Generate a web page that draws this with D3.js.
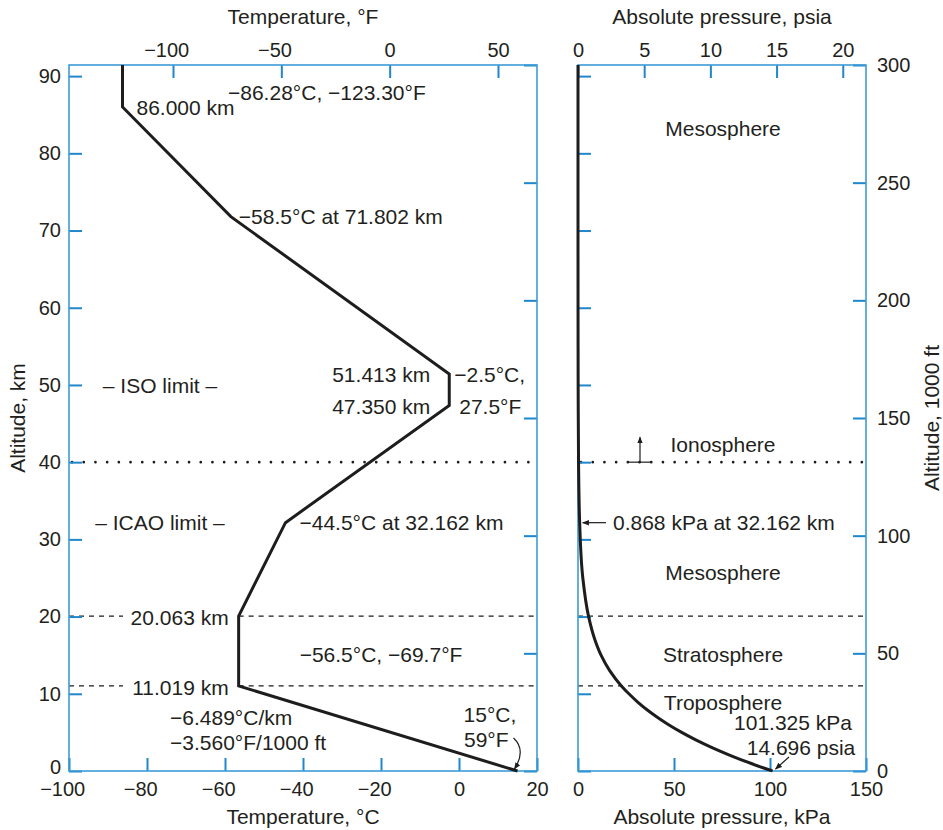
<!DOCTYPE html>
<html>
<head>
<meta charset="utf-8">
<script src="https://cdn.jsdelivr.net/npm/d3@7"></script>
<style>
  body { margin: 0; background: #fff; }
  text { font-family: "Liberation Sans", Arial, Helvetica, sans-serif; fill: #231f20; }
</style>
</head>
<body>
<div class="canvas"></div>
<script>
// temperature profile (standard atmosphere), altitude km / temperature °C
const tempAlt = [0, 11.019, 20.063, 32.162, 47.350, 51.413, 71.802, 86.000, 91.44];
const tempC = [15, -56.5, -56.5, -44.5, -2.5, -2.5, -58.5, -86.28, -86.28];

// pressure profile, altitude km / absolute pressure kPa
const presAlt = [0, 1, 2, 3, 4, 5, 6, 7, 8, 9, 10, 11.019, 13, 15, 17, 20.063, 25, 32.162, 40, 47.35, 55, 65, 75, 86, 91.44];
const presKPa = [101.325, 89.9, 79.5, 70.1, 61.6, 54.0, 47.2, 41.1, 35.6, 30.8, 26.5, 22.6, 16.5, 12.0, 8.8, 5.47, 2.51, 0.868, 0.287, 0.11, 0.043, 0.0106, 0.0025, 0.00037, 0.0002];

// layer boundaries, km
const layerLines = [11.019, 20.063];
const ionoBase = 40;

// tick values
const kmTicks = [0, 10, 20, 30, 40, 50, 60, 70, 80, 90];
const kftTicks = [0, 50, 100, 150, 200, 250, 300];
const cTicks = [-100, -80, -60, -40, -20, 0, 20];
const fTicks = [-100, -50, 0, 50];
const kpaTicks = [0, 50, 100, 150];
const psiaTicks = [0, 5, 10, 15, 20];

const svg = d3.select('.canvas')
  .append('svg')
    .attr('width', 943)
    .attr('height', 830);

const yTop = 65, yBot = 771;
const L = {x0: 69, x1: 537};
const R = {x0: 578, x1: 866};
const blue = '#3d9bd8', tickBlue = '#1f87cc', ink = '#1e1c1d';

// scales
const y = d3.scaleLinear().domain([0, 91.44]).range([yBot, yTop]);
const yFt = d3.scaleLinear().domain([0, 300]).range([yBot, yTop]);
const xC = d3.scaleLinear().domain([-100, 20]).range([L.x0, L.x1]);
const xF = d3.scaleLinear().domain([-148, 68]).range([L.x0, L.x1]);
const xKPa = d3.scaleLinear().domain([0, 150]).range([R.x0, R.x1]);
const xPsia = d3.scaleLinear().domain([0, 150 / 6.894757]).range([R.x0, R.x1]);

// arrow marker
svg.append('defs').append('marker')
  .attr('id', 'arr')
  .attr('viewBox', '0 0 10 10')
  .attr('refX', 9).attr('refY', 5)
  .attr('markerWidth', 7).attr('markerHeight', 7)
  .attr('markerUnits', 'userSpaceOnUse')
  .attr('orient', 'auto')
  .append('path')
    .attr('d', 'M0,1 L10,5 L0,9 Z')
    .attr('fill', ink);

// reference lines
const refs = svg.append('g');
layerLines.forEach(a => {
  refs.append('line')
    .attr('x1', L.x0).attr('x2', xC(-100) + 54)
    .attr('y1', y(a)).attr('y2', y(a));
  refs.append('line')
    .attr('x1', xC(-56.5)).attr('x2', L.x1)
    .attr('y1', y(a)).attr('y2', y(a));
  refs.append('line')
    .attr('x1', R.x0).attr('x2', R.x1)
    .attr('y1', y(a)).attr('y2', y(a));
});
refs.selectAll('line')
  .attr('stroke', ink)
  .attr('stroke-width', 1.2)
  .attr('stroke-dasharray', '5,5');

[[L.x0, L.x1], [R.x0, R.x1]].forEach(p => {
  svg.append('line')
    .attr('x1', p[0] + 3).attr('x2', p[1])
    .attr('y1', y(ionoBase)).attr('y2', y(ionoBase))
    .attr('stroke', ink)
    .attr('stroke-width', 2.6)
    .attr('stroke-linecap', 'round')
    .attr('stroke-dasharray', '0.1,11.6');
});

// axes
function styleAxis(g) {
  g.select('.domain').remove();
  g.attr('font-size', 20)
    .attr('font-family', '"Liberation Sans", Arial, Helvetica, sans-serif')
    .style('color', tickBlue);
  g.selectAll('.tick line').attr('stroke-width', 2);
  g.selectAll('.tick text').attr('fill', '#231f20');
}
// centre the digits of negative labels on the tick, minus hangs left
function hangMinus(g) {
  g.selectAll('.tick text').filter(d => d < 0).attr('dx', '-0.34em');
}

const fmt = d3.format('d');
svg.append('g').attr('transform', `translate(${L.x0},0)`)
  .call(d3.axisLeft(y).tickValues(kmTicks).tickSize(-13).tickPadding(8).tickFormat(fmt)).call(styleAxis)
  .selectAll('.tick text').filter(d => d === 0).attr('y', -4);
svg.append('g').attr('transform', `translate(${L.x1},0)`)
  .call(d3.axisRight(yFt).tickValues(kftTicks).tickSize(-13).tickFormat('')).call(styleAxis);
svg.append('g').attr('transform', `translate(0,${yBot})`)
  .call(d3.axisBottom(xC).tickValues(cTicks).tickSize(-13).tickPadding(11).tickFormat(fmt)).call(styleAxis).call(hangMinus);
svg.append('g').attr('transform', `translate(0,${yTop})`)
  .call(d3.axisTop(xF).tickValues(fTicks).tickSize(-13).tickPadding(8).tickFormat(fmt)).call(styleAxis).call(hangMinus);
svg.append('g').attr('transform', `translate(${R.x0},0)`)
  .call(d3.axisLeft(y).tickValues(kmTicks).tickSize(-13).tickFormat('')).call(styleAxis);
svg.append('g').attr('transform', `translate(${R.x1},0)`)
  .call(d3.axisRight(yFt).tickValues(kftTicks).tickSize(-13).tickPadding(11).tickFormat(fmt)).call(styleAxis);
svg.append('g').attr('transform', `translate(0,${yTop})`)
  .call(d3.axisTop(xPsia).tickValues(psiaTicks).tickSize(-13).tickPadding(8).tickFormat(fmt)).call(styleAxis);
svg.append('g').attr('transform', `translate(0,${yBot})`)
  .call(d3.axisBottom(xKPa).tickValues(kpaTicks).tickSize(-13).tickPadding(11).tickFormat(fmt)).call(styleAxis);

// panel frames
[L, R].forEach(p => {
  svg.append('rect')
    .attr('x', p.x0).attr('y', yTop)
    .attr('width', p.x1 - p.x0).attr('height', yBot - yTop)
    .attr('fill', 'none')
    .attr('stroke', blue)
    .attr('stroke-width', 1.6);
});

// temperature line
const tempData = tempAlt.map((a, i) => ({alt: a, t: tempC[i]}));
svg.append('path')
  .datum(tempData)
  .attr('fill', 'none')
  .attr('stroke', ink)
  .attr('stroke-width', 3)
  .attr('d', d3.line().x(d => xC(d.t)).y(d => y(d.alt)));

// pressure curve
const presData = presAlt.map((a, i) => ({alt: a, p: presKPa[i]}));
svg.append('path')
  .datum(presData)
  .attr('fill', 'none')
  .attr('stroke', ink)
  .attr('stroke-width', 3)
  .attr('d', d3.line().x(d => xKPa(d.p)).y(d => y(d.alt)).curve(d3.curveMonotoneY));

// text helper
function label(x, yy, txt, anchor, size) {
  return svg.append('text')
    .attr('x', x).attr('y', yy)
    .attr('dy', '0.35em')
    .attr('text-anchor', anchor || 'start')
    .attr('font-size', size || 21)
    .text(txt);
}

// left panel notes
label(xC(-86.28) + 14, y(86) + 1, '86.000 km');
label(228, 93, '\u221286.28\u00b0C, \u2212123.30\u00b0F');
label(xC(-58.5) + 8, y(71.802), '\u221258.5\u00b0C at 71.802 km');
label(xC(-2.5) - 19, y(51.413) + 1, '51.413 km', 'end');
label(xC(-2.5) - 19, y(47.35) + 1, '47.350 km', 'end');
label(xC(-2.5) + 5, y(51.413) + 1, '\u22122.5\u00b0C,');
label(xC(-2.5) + 10, y(47.35) + 1, '27.5\u00b0F');
label(160, y(50) + 1, '\u2013 ISO limit \u2013', 'middle');
label(160, y(32.162), '\u2013 ICAO limit \u2013', 'middle');
label(xC(-44.5) + 14, y(32.162), '\u221244.5\u00b0C at 32.162 km');
label(xC(-56.5) - 10, y(20.063) + 2, '20.063 km', 'end');
label(xC(-56.5) - 10, y(11.019) + 2, '11.019 km', 'end');
label(381, 655, '\u221256.5\u00b0C, \u221269.7\u00b0F', 'middle');
label(170, 718, '\u22126.489\u00b0C/km');
label(170, 743, '\u22123.560\u00b0F/1000 ft');
label(490, 715, '15\u00b0C,', 'middle');
label(464, 740, '59\u00b0F');

svg.append('path')
  .attr('d', `M${xC(15) - 4},738 Q${xC(15) + 9},750 ${xC(15) - 3},${yBot - 2}`)
  .attr('fill', 'none')
  .attr('stroke', ink)
  .attr('stroke-width', 1.2)
  .attr('marker-end', 'url(#arr)');

// right panel notes
label(723, 129, 'Mesosphere', 'middle');
label(723, 445, 'Ionosphere', 'middle');
label(613, y(32.162), '0.868 kPa at 32.162 km');
label(723, 573, 'Mesosphere', 'middle');
label(723, 655, 'Stratosphere', 'middle');
label(723, 703, 'Troposphere', 'middle');
label(793, 723, '101.325 kPa', 'middle');
label(801, 748, '14.696 psia', 'middle');

svg.append('line')
  .attr('x1', 628).attr('x2', 650)
  .attr('y1', y(ionoBase)).attr('y2', y(ionoBase))
  .attr('stroke', ink).attr('stroke-width', 1.2);
svg.append('line')
  .attr('x1', 640).attr('x2', 640)
  .attr('y1', y(ionoBase)).attr('y2', y(ionoBase) - 25)
  .attr('stroke', ink).attr('stroke-width', 1.2)
  .attr('marker-end', 'url(#arr)');
svg.append('line')
  .attr('x1', 606).attr('x2', xKPa(0.868) + 3)
  .attr('y1', y(32.162)).attr('y2', y(32.162))
  .attr('stroke', ink).attr('stroke-width', 1.2)
  .attr('marker-end', 'url(#arr)');
svg.append('line')
  .attr('x1', 789).attr('x2', xKPa(101.325) + 3)
  .attr('y1', 757).attr('y2', yBot - 2)
  .attr('stroke', ink).attr('stroke-width', 1.2)
  .attr('marker-end', 'url(#arr)');

// axis titles
const yMid = (yTop + yBot) / 2;
label((L.x0 + L.x1) / 2, 17, 'Temperature, \u00b0F', 'middle');
label((L.x0 + L.x1) / 2, 817, 'Temperature, \u00b0C', 'middle');
label((R.x0 + R.x1) / 2, 17, 'Absolute pressure, psia', 'middle');
label((R.x0 + R.x1) / 2, 817, 'Absolute pressure, kPa', 'middle');
svg.append('text')
  .attr('transform', `translate(18,${yMid}) rotate(-90)`)
  .attr('dy', '0.35em')
  .attr('text-anchor', 'middle')
  .attr('font-size', 21)
  .text('Altitude, km');
svg.append('text')
  .attr('transform', `translate(932,${yMid}) rotate(-90)`)
  .attr('dy', '0.35em')
  .attr('text-anchor', 'middle')
  .attr('font-size', 21)
  .text('Altitude, 1000 ft');
</script>
</body>
</html>
